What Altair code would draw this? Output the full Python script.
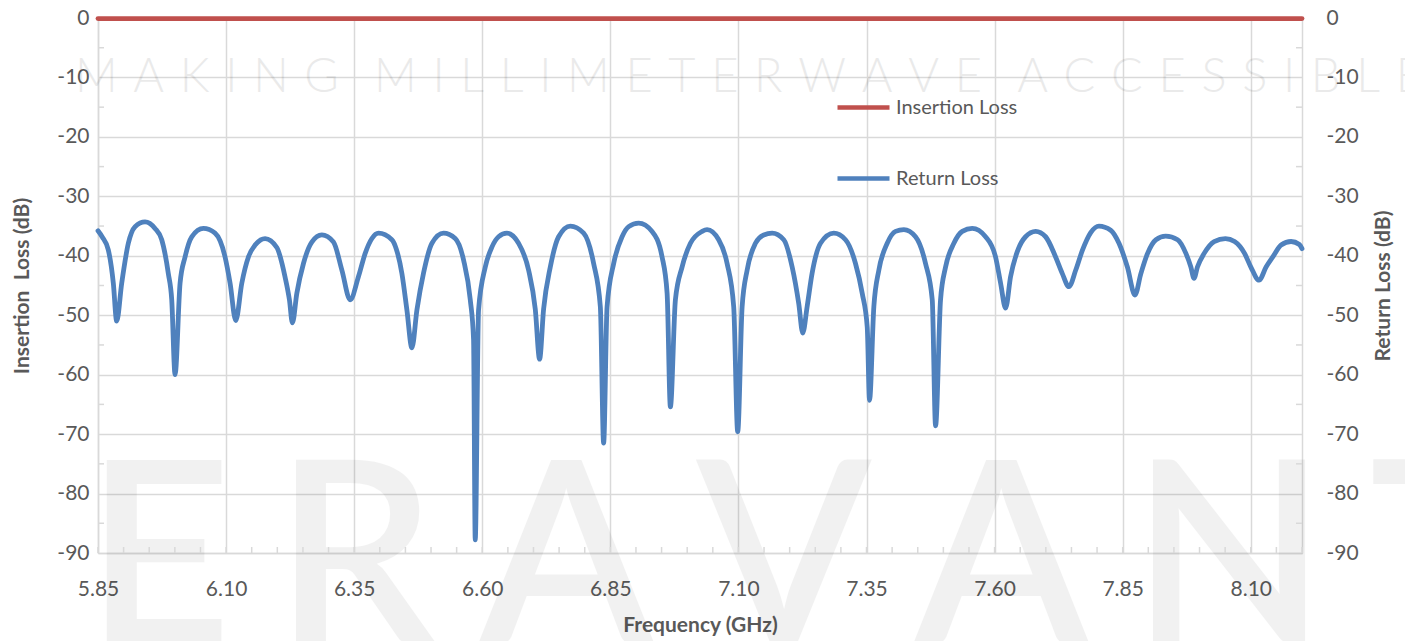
import altair as alt
import pandas as pd

# ---------------- data ----------------
freq_ghz = [
    5.850, 5.858, 5.8701, 5.8799, 5.8865, 5.8963, 5.9092, 5.9223, 5.9418, 5.9613,
    5.9744, 5.9873, 5.9939, 6.0004, 6.0102, 6.0199, 6.0330, 6.0557, 6.0785, 6.0980,
    6.1078, 6.1189, 6.1307, 6.1436, 6.1566, 6.1762, 6.1990, 6.2152, 6.2236, 6.2295,
    6.2381, 6.2510, 6.2673, 6.2869, 6.3096, 6.3260, 6.3422, 6.3584, 6.3715, 6.3846,
    6.3975, 6.4236, 6.4320, 6.4432, 6.4529, 6.4627, 6.4725, 6.4854, 6.5018, 6.5244,
    6.5473, 6.5635, 6.5766, 6.5830, 6.5863, 6.5928, 6.6059, 6.6190, 6.6318, 6.6482,
    6.6709, 6.6904, 6.7035, 6.7119, 6.7197, 6.7328, 6.7490, 6.7719, 6.7979, 6.8174,
    6.8305, 6.8369, 6.8436, 6.8565, 6.8729, 6.8858, 6.9053, 6.9315, 6.9510, 6.9608,
    6.9672, 6.9770, 6.9900, 7.0063, 7.0291, 7.0389, 7.0615, 7.0779, 7.0908, 7.0986,
    7.1072, 7.1170, 7.1332, 7.1494, 7.1658, 7.1885, 7.2049, 7.2178, 7.2256, 7.2342,
    7.2439, 7.2602, 7.2861, 7.3090, 7.3285, 7.3416, 7.3514, 7.3559, 7.3643, 7.3741,
    7.3904, 7.4066, 7.4229, 7.4457, 7.4652, 7.4783, 7.4848, 7.4945, 7.5043, 7.5205,
    7.5369, 7.5564, 7.5824, 7.6019, 7.6117, 7.6215, 7.6312, 7.6443, 7.6604, 7.6801,
    7.6996, 7.7191, 7.7322, 7.7451, 7.7584, 7.7713, 7.7876, 7.8037, 7.8266, 7.8428,
    7.8592, 7.8740, 7.8855, 7.8986, 7.9149, 7.9340, 7.9572, 7.9734, 7.9831, 7.9893,
    7.9959, 8.0090, 8.0285, 8.0506, 8.0684, 8.0879, 8.1002, 8.1162, 8.1299, 8.1430,
    8.1592, 8.1787, 8.1949, 8.2000,
]
return_loss_db = [
    -35.8, -36.8, -39.0, -44.6, -51.0, -44.6, -37.9, -35.1, -34.3, -35.4,
    -37.3, -43.0, -47.4, -60.0, -44.6, -40.2, -36.8, -35.4, -36.2, -40.2,
    -44.6, -50.9, -44.6, -40.2, -38.2, -37.1, -38.6, -43.6, -47.4, -51.3,
    -46.3, -41.3, -37.7, -36.5, -37.7, -42.4, -47.4, -43.5, -39.6, -37.1,
    -36.2, -37.3, -38.8, -43.0, -49.1, -55.5, -49.1, -42.9, -37.9, -36.2,
    -37.1, -40.7, -47.4, -54.0, -87.8, -49.1, -41.9, -38.5, -36.8, -36.2,
    -37.9, -42.4, -49.0, -57.4, -49.0, -41.9, -36.8, -35.0, -36.2, -41.3,
    -48.6, -71.5, -48.6, -41.3, -36.8, -35.1, -34.5, -35.9, -40.2, -46.3,
    -65.4, -47.4, -41.9, -37.9, -35.9, -35.6, -37.3, -41.3, -48.6, -69.6,
    -48.6, -42.4, -37.9, -36.5, -36.2, -37.3, -41.9, -48.1, -53.0, -48.5,
    -42.9, -37.9, -36.2, -37.3, -41.3, -46.3, -52.0, -64.3, -48.6, -42.4,
    -37.9, -35.9, -35.6, -36.8, -41.3, -47.4, -68.6, -47.4, -41.9, -37.9,
    -35.9, -35.4, -36.8, -40.2, -44.6, -48.8, -43.5, -39.3, -36.8, -35.9,
    -36.8, -40.2, -43.0, -45.2, -42.4, -39.1, -36.1, -35.0, -35.7, -37.9,
    -41.9, -46.6, -43.0, -39.6, -37.3, -36.7, -37.3, -39.6, -41.9, -43.8,
    -41.9, -39.6, -37.6, -37.1, -37.6, -39.6, -41.9, -44.1, -41.9, -40.2,
    -38.2, -37.6, -38.1, -38.8,
]
il_freq_ghz = [5.85, 6.40, 7.00, 7.60, 8.20]
insertion_loss_db = [-0.1, -0.1, -0.1, -0.1, -0.1]

series_names = ["Insertion Loss", "Return Loss"]
series_colors = ["#c0504d", "#4f81bd"]

x_ticks = [5.85, 6.10, 6.35, 6.60, 6.85, 7.10, 7.35, 7.60, 7.85, 8.10]
y_ticks = [-90, -80, -70, -60, -50, -40, -30, -20, -10, 0]
x_minor = [round(5.85 + 0.05 * i, 2) for i in range(48)]
y_minor = [-85, -75, -65, -55, -45, -35, -25, -15, -5]

watermark_top = "MAKING MILLIMETERWAVE ACCESSIBLE"
watermark_bottom = "ERAVANT"

# ---------------- styling ----------------
W, H = 1204, 535
FONT = "Lato"
TEXT = "#595959"
GRID = "#d9d9d9"

xscale = alt.Scale(domain=[5.85, 8.20], nice=False, zero=False)
yscale = alt.Scale(domain=[-90, 0], nice=False, zero=False)

x_axis = alt.Axis(
    values=x_ticks, format=".2f", title="Frequency (GHz)", grid=True,
    gridColor=GRID, gridWidth=1.5, domainColor=GRID, domainWidth=1.5,
    ticks=False, labelPadding=25, titlePadding=15, labelFontSize=21,
    titleFontSize=21, labelColor=TEXT, titleColor=TEXT, labelFont=FONT,
    titleFont=FONT, titleFontWeight="bold", labelFlush=False,
    labelOverlap=False)

rl = pd.DataFrame({"freq": freq_ghz, "db": return_loss_db, "series": "Return Loss"})
il = pd.DataFrame({"freq": il_freq_ghz, "db": insertion_loss_db, "series": "Insertion Loss"})
lines_df = pd.concat([il, rl], ignore_index=True)

one = pd.DataFrame({"k": [0]})

top_text = "\u2003".join("\u2004".join(w) for w in watermark_top.split(" "))
bottom_text = "\u2006".join(watermark_bottom)

wm1 = alt.Chart(one).mark_text(
    text=top_text, font=FONT, fontSize=47, fontWeight=300, align="left",
    baseline="alphabetic", color="#000000", opacity=0.08,
).encode(x=alt.value(-23), y=alt.value(74))

wm2 = alt.Chart(one).mark_text(
    text=bottom_text, font=FONT, fontSize=255, fontWeight=600, align="left",
    baseline="alphabetic", color="#000000", opacity=0.05,
).encode(x=alt.value(-13), y=alt.value(625))

xminor = alt.Chart(pd.DataFrame({"f": x_minor})).mark_rule(
    color=GRID, strokeWidth=1.5
).encode(
    x=alt.X("f:Q", scale=xscale, axis=x_axis),
    y=alt.value(H), y2=alt.value(H - 6),
)

yminor_left = alt.Chart(pd.DataFrame({"v": y_minor})).mark_rule(
    color=GRID, strokeWidth=1.5
).encode(
    y=alt.Y("v:Q", scale=yscale, axis=None),
    x=alt.value(0), x2=alt.value(6),
)

LABEL_EXPR = "'' + datum.value"

lines = alt.Chart(lines_df).mark_line(
    strokeWidth=4.8, interpolate="monotone", strokeCap="round", strokeJoin="round"
).encode(
    x=alt.X("freq:Q", scale=xscale, axis=x_axis),
    y=alt.Y("db:Q", scale=yscale, axis=alt.Axis(
        orient="left", values=y_ticks, title="Insertion\u00a0 Loss (dB)", grid=True,
        gridColor=GRID, gridWidth=1.5, domainColor=GRID, domainWidth=1.5,
        ticks=False, labelPadding=9, titlePadding=24, labelFontSize=21,
        titleFontSize=21, labelColor=TEXT, titleColor=TEXT, labelFont=FONT,
        titleFont=FONT, titleFontWeight="bold", labelOverlap=False,
        labelExpr=LABEL_EXPR)),
    color=alt.Color("series:N", scale=alt.Scale(domain=series_names, range=series_colors),
                    legend=alt.Legend(
                        title=None, orient="none", legendX=737, legendY=61,
                        symbolType="stroke", symbolSize=2704, symbolStrokeWidth=4.5,
                        labelFontSize=20, labelFont=FONT, labelColor=TEXT,
                        labelOffset=4, rowPadding=32, padding=0, direction="vertical")),
)

right_axis = alt.Chart(pd.DataFrame({"v": y_minor})).mark_rule(
    color=GRID, strokeWidth=1.5
).encode(
    y=alt.Y("v:Q", scale=yscale, axis=alt.Axis(
        orient="right", values=y_ticks, title="Return Loss (dB)", grid=False,
        domainColor=GRID, domainWidth=1.5, ticks=False, labelPadding=24,
        titlePadding=35, titleAngle=270, labelFontSize=21, titleFontSize=21,
        labelColor=TEXT, titleColor=TEXT, labelFont=FONT, titleFont=FONT,
        titleFontWeight="bold", labelOverlap=False, labelExpr=LABEL_EXPR)),
    x=alt.value(W - 6), x2=alt.value(W),
)

chart = alt.layer(wm1, wm2, xminor, yminor_left, lines, right_axis).resolve_scale(
    y="independent"
).properties(
    width=W, height=H,
    autosize=alt.AutoSizeParams(type="none"),
    padding={"left": 90, "top": 10, "right": 103, "bottom": 96},
).configure_view(stroke=None).configure(background="white")

chart.save("out.html", embed_options={"renderer": "svg", "actions": False})
